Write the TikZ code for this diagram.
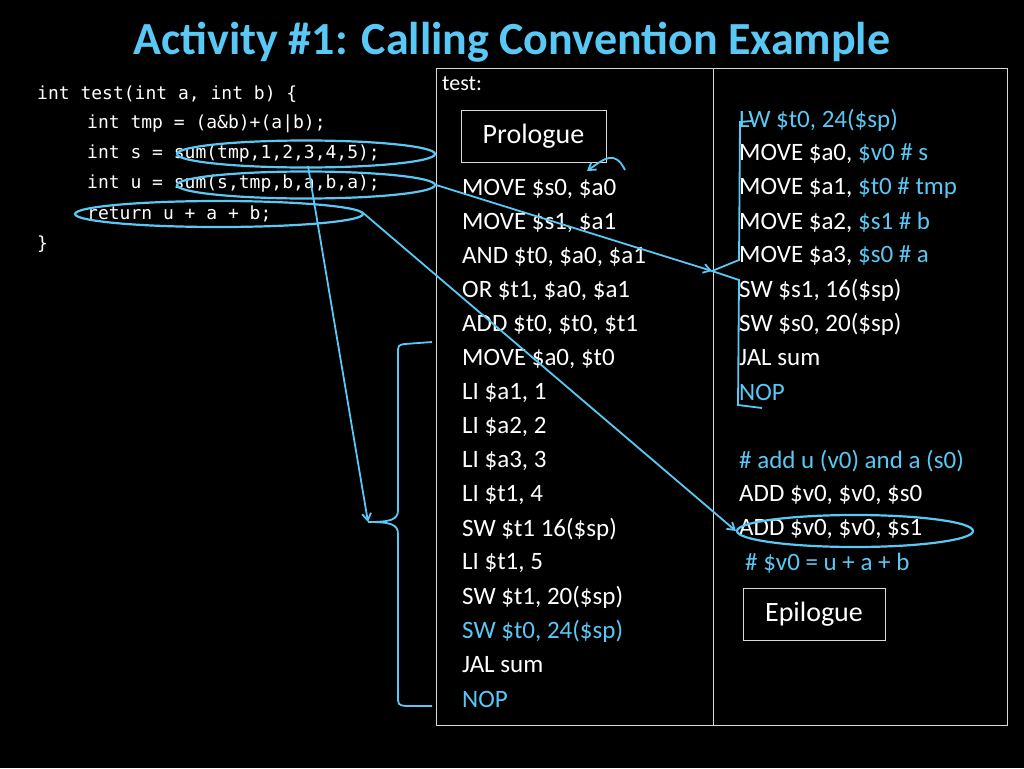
\documentclass[tikz,border=0pt]{standalone}
\usepackage{fontspec}
\setmainfont{Carlito}
\newfontfamily\codefont{DejaVu Sans Mono}
\usetikzlibrary{shapes.geometric,arrows.meta}
\definecolor{lb}{RGB}{90,200,245}
\begin{document}
\begin{tikzpicture}[x=1pt,y=-1pt,
  code/.style={anchor=west,text=white,font=\codefont\fontsize{18}{20}\selectfont,inner sep=0},
  asm/.style={anchor=west,text=white,font=\fontsize{25}{28}\selectfont,inner sep=0},
  hl/.style={draw=lb,line width=2.2pt,ellipse,inner sep=0},
  con/.style={draw=lb,line width=1.8pt},
  arr/.style={con,-{Straight Barb[length=7pt,width=9pt]}},
  frame/.style={draw=white!85!black,line width=0.8pt}]
\fill[black] (0,0) rectangle (1024,768);
\useasboundingbox (0,0) rectangle (1024,768);
\node[anchor=center,text=lb,font=\bfseries\fontsize{46}{50}\selectfont] (title) at (512,42) {Activity \#1: Calling Convention Example};
% code
\node[code] (c1) at (37,94) {int test(int a, int b) \{};
\node[code] (c2) at (87,124) {int tmp = (a\&b)+(a|b);};
\node[code] (c3) at (87,154) {int s = sum(tmp,1,2,3,4,5);};
\node[code] (c4) at (87,184) {int u = sum(s,tmp,b,a,b,a);};
\node[code] (c5) at (87,214) {return u + a + b;};
\node[code] (c6) at (37,244) {\}};
% frames
\draw[frame] (436,68) rectangle (713,725);
\draw[frame] (713,68) rectangle (1007,725);
\node[anchor=north west,text=white,font=\fontsize{22}{24}\selectfont,inner sep=0] (test) at (442,76) {test:};
\node[draw=white!85!black,line width=0.8pt,minimum width=145,minimum height=52,text=white,font=\fontsize{28}{30}\selectfont] (pro) at (533.5,136) {Prologue};
\node[draw=white!85!black,line width=0.8pt,minimum width=142,minimum height=52,text=white,font=\fontsize{28}{30}\selectfont] (epi) at (814,614) {Epilogue};
% left asm
\node[asm] (l1) at (462,189) {MOVE \$s0, \$a0};
\node[asm] (l2) at (462,223) {MOVE \$s1, \$a1};
\node[asm] (l3) at (462,257) {AND \$t0, \$a0, \$a1};
\node[asm] (l4) at (462,291) {OR \$t1, \$a0, \$a1};
\node[asm] (l5) at (462,325) {ADD \$t0, \$t0, \$t1};
\node[asm] (l6) at (462,359) {MOVE \$a0, \$t0};
\node[asm] (l7) at (462,393) {LI \$a1, 1};
\node[asm] (l8) at (462,427) {LI \$a2, 2};
\node[asm] (l9) at (462,461) {LI \$a3, 3};
\node[asm] (l10) at (462,495) {LI \$t1, 4};
\node[asm] (l11) at (462,529) {SW \$t1 16(\$sp)};
\node[asm] (l12) at (462,563) {LI \$t1, 5};
\node[asm] (l13) at (462,597) {SW \$t1, 20(\$sp)};
\node[asm,text=lb] (l14) at (462,631) {SW \$t0, 24(\$sp)};
\node[asm] (l15) at (462,665) {JAL sum};
\node[asm,text=lb] (l16) at (462,699) {NOP};
% right asm
\node[asm,text=lb] (r1) at (739,120) {LW \$t0, 24(\$sp)};
\node[asm] (r2) at (739,154) {MOVE \$a0, \textcolor{lb}{\$v0 \# s}};
\node[asm] (r3) at (739,188) {MOVE \$a1, \textcolor{lb}{\$t0 \# tmp}};
\node[asm] (r4) at (739,222) {MOVE \$a2, \textcolor{lb}{\$s1 \# b}};
\node[asm] (r5) at (739,256) {MOVE \$a3, \textcolor{lb}{\$s0 \# a}};
\node[asm] (r6) at (739,290) {SW \$s1, 16(\$sp)};
\node[asm] (r7) at (739,324) {SW \$s0, 20(\$sp)};
\node[asm] (r8) at (739,358) {JAL sum};
\node[asm,text=lb] (r9) at (739,392) {NOP};
\node[asm,text=lb] (r10) at (739,461) {\# add u (v0) and a (s0)};
\node[asm] (r11) at (739,495) {ADD \$v0, \$v0, \$s0};
\node[asm] (r12) at (739,529) {ADD \$v0, \$v0, \$s1};
\node[asm,text=lb] (r13) at (745,563) {\# \$v0 = u + a + b};
% ellipses
\node[hl,minimum width=258,minimum height=27] (es) at (306,154) {};
\node[hl,minimum width=258,minimum height=27] (eu) at (306,185) {};
\node[hl,minimum width=288,minimum height=26] (er) at (219,214) {};
\node[hl,minimum width=236,minimum height=32] (ea) at (855,531) {};
% brackets
\coordinate (lbp) at (368,522);
\coordinate (rbp) at (712,271);
\draw[con] (432,342) -- (405,344) .. controls (398,345) .. (398,355) -- (398,510) .. controls (398,520) and (390,522) .. (lbp)
  .. controls (390,522) and (398,524) .. (398,534) -- (398,695) .. controls (398,705) .. (406,706) -- (432,706);
\draw[con] (752,121) -- (740,122) -- (739,260) -- (rbp) -- (739,280) -- (738,405) -- (762,408);
% arrows
\draw[arr] (eu.east) -- (rbp);
\draw[arr] (308,166) -- (lbp);
\draw[arr] (362,212) -- (ea.west);
\draw[arr] (625,170) .. controls (615,150) and (605,158) .. (587,171);
\end{tikzpicture}
\end{document}
